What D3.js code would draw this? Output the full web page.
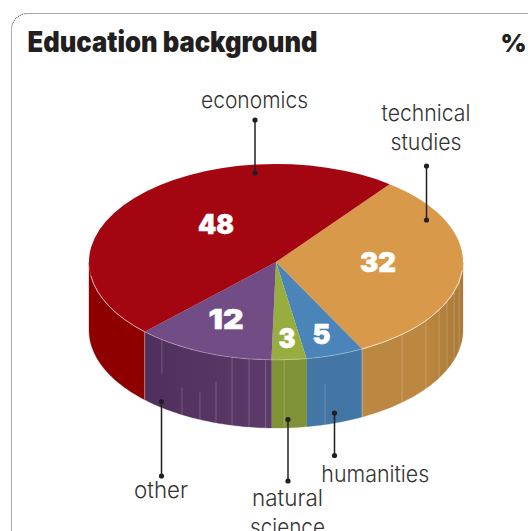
<!DOCTYPE html>
<html>
<head>
<meta charset="utf-8">
<script src="https://cdn.jsdelivr.net/npm/d3@7"></script>
<style>
  html, body { margin: 0; padding: 0; background: #fff; overflow: hidden; }
  svg { display: block; }
</style>
</head>
<body>
<div id="chart"></div>
<script>
// Education background, shares in percent, clockwise from the upper right
const categories = ["technical studies", "humanities", "natural science", "other", "economics"];
const shares = [32, 5, 3, 12, 48];
const topColors = ["#d8994b", "#4a84b8", "#98ad40", "#724c84", "#a30610"];
const wallColors = ["#bc8740", "#4376a4", "#7f9235", "#55325f", "#8e0000"];
const chartTitle = "Education background";
const unitLabel = "%";

// Slab geometry
const W = 528, H = 531;
const cx = 276, cy = 262, rx = 187, ry = 98, depth = 68;
const startDeg = 37.4;
const rad = d => d * Math.PI / 180;

// Moulding seams on the side of the slab, in degrees clockwise from the top
const seams = [
  { deg: 101.7, from: 0, to: 1 }, { deg: 107.8, from: 0, to: 1 }, { deg: 113.9, from: 0, to: 1 },
  { deg: 119.3, from: 0, to: 1 }, { deg: 126.7, from: 0, to: 1 }, { deg: 137.6, from: 0, to: 1 },
  { deg: 164.8, from: 0.4, to: 1 }, { deg: 177.5, from: 0, to: 1 },
  { deg: 183.2, from: 0, to: 1 }, { deg: 188.3, from: 0, to: 1 }, { deg: 193.6, from: 0, to: 1 },
  { deg: 198.7, from: 0.4, to: 1 }, { deg: 204, from: 0.6, to: 1 }, { deg: 210.2, from: 0.6, to: 1 },
  { deg: 217.6, from: 0, to: 0.5 }
];

const svg = d3.select("#chart").append("svg").attr("width", W).attr("height", H);

const rimX = a => cx + rx * Math.sin(a);
const rimY = a => cy - ry * Math.cos(a);

const defs = svg.append("defs");
const sideShade = defs.append("linearGradient").attr("id", "techWall");
sideShade.append("stop").attr("offset", "0").attr("stop-color", wallColors[0]);
sideShade.append("stop").attr("offset", "0.6").attr("stop-color", wallColors[0]);
sideShade.append("stop").attr("offset", "1").attr("stop-color", "#a97a39");
const otherShade = defs.append("linearGradient").attr("id", "otherWall");
otherShade.append("stop").attr("offset", "0").attr("stop-color", "#4f2f5c");
otherShade.append("stop").attr("offset", "1").attr("stop-color", "#5c3a69");

// Dotted panel outline runs off the right and bottom of the page
svg.append("rect")
  .attr("x", 11.5).attr("y", 13.5).attr("width", 700).attr("height", 700).attr("rx", 16)
  .attr("fill", "none").attr("stroke", "#555").attr("stroke-width", 1.1).attr("stroke-dasharray", "1 1");

svg.append("text").attr("x", 27.5).attr("y", 52)
  .attr("font-family", "Inter").attr("font-weight", 900).attr("font-size", 28)
  .attr("textLength", 290).attr("lengthAdjust", "spacingAndGlyphs")
  .attr("fill", "#231f20").text(chartTitle);
svg.append("text").attr("x", 500.5).attr("y", 52)
  .attr("font-family", "Inter").attr("font-weight", 900).attr("font-size", 25)
  .attr("fill", "#231f20").text(unitLabel);

// Pie layout, with angles measured clockwise from the top of the disc
const slices = d3.pie().sort(null)
  .startAngle(rad(startDeg)).endAngle(rad(startDeg) + 2 * Math.PI)(shares);

// Side wall: the visible part of each slice's rim, pushed down by the slab depth
const walls = svg.append("g");
const wallPath = (a0, a1) => {
  const n = 48;
  const angles = d3.range(n + 1).map(i => a0 + (a1 - a0) * i / n);
  const pts = angles.map(a => [rimX(a), rimY(a)])
    .concat(angles.slice().reverse().map(a => [rimX(a), rimY(a) + depth]));
  return d3.line()(pts) + "Z";
};
slices.forEach((s, i) => {
  const a0 = Math.max(s.startAngle, Math.PI / 2);
  const a1 = Math.min(s.endAngle, 3 * Math.PI / 2);
  if (a1 <= a0) return;
  const fill = i === 0 ? "url(#techWall)" : i === 3 ? "url(#otherWall)" : wallColors[i];
  walls.append("path").attr("d", wallPath(a0, a1)).attr("fill", fill).attr("stroke", fill).attr("stroke-width", 0.3);
});

// Seams and slice joints on the wall
walls.selectAll("line.seam").data(seams).join("line").attr("class", "seam")
  .attr("x1", d => rimX(rad(d.deg))).attr("x2", d => rimX(rad(d.deg)))
  .attr("y1", d => rimY(rad(d.deg)) + depth * d.from)
  .attr("y2", d => rimY(rad(d.deg)) + depth * d.to)
  .attr("stroke", "#fff").attr("stroke-opacity", 0.2).attr("stroke-width", 1);
[slices[0].endAngle, slices[3].endAngle].forEach(a => {
  walls.append("line")
    .attr("x1", rimX(a)).attr("x2", rimX(a))
    .attr("y1", rimY(a)).attr("y2", rimY(a) + depth)
    .attr("stroke", "#fff").attr("stroke-opacity", 0.4).attr("stroke-width", 1);
});

// Top face: a circular pie squashed into an ellipse
const topFace = svg.append("g").attr("transform", `translate(${cx},${cy}) scale(1,${ry / rx})`);
const arc = d3.arc().innerRadius(0).outerRadius(rx);
topFace.selectAll("path").data(slices).join("path")
  .attr("d", arc).attr("fill", (d, i) => topColors[i]);

// Pale highlight along the near rim of the disc
const rimLine = d3.arc().innerRadius(rx).outerRadius(rx);
[[rad(95), slices[0].endAngle, 0.4], [slices[3].endAngle, rad(262), 0.35],
 [slices[0].endAngle, slices[3].endAngle, 0.15]].forEach(([a0, a1, op]) => {
  topFace.append("path")
    .attr("d", rimLine({ startAngle: a0, endAngle: a1 }))
    .attr("fill", "none").attr("stroke", "#fff").attr("stroke-opacity", op)
    .attr("stroke-width", 1).attr("vector-effect", "non-scaling-stroke");
});

// Value labels on the top face
const valueSpots = [[378, 272], [321.5, 344], [287, 348], [226, 329], [216, 234]];
const valueWidths = [36, 18, 17, 35, 36];
svg.append("g").selectAll("text").data(slices).join("text")
  .attr("x", (d, i) => valueSpots[i][0]).attr("y", (d, i) => valueSpots[i][1])
  .attr("text-anchor", "middle")
  .attr("font-family", "Inter").attr("font-weight", 900).attr("font-size", 27)
  .attr("textLength", (d, i) => valueWidths[i]).attr("lengthAdjust", "spacingAndGlyphs")
  .attr("fill", "#fff").attr("stroke", "#fff").attr("stroke-width", 0.5)
  .text(d => d.value);

// Category captions
const captions = [
  { lines: ["technical", "studies"], x: 426, y: 121, widths: [89, 71] },
  { lines: ["humanities"], x: 375.3, y: 482, widths: [108] },
  { lines: ["natural", "science"], x: 287.5, y: 506, widths: [71, 75] },
  { lines: ["other"], x: 161, y: 498, widths: [54] },
  { lines: ["economics"], x: 254.5, y: 108, widths: [107] }
];
const captionGroup = svg.append("g")
  .attr("font-family", "Inter").attr("font-weight", 300).attr("font-size", 23)
  .attr("fill", "#333").attr("text-anchor", "middle");
captions.forEach(c => c.lines.forEach((t, j) => {
  captionGroup.append("text").attr("x", c.x).attr("y", c.y + j * 28.7)
    .attr("textLength", c.widths[j]).attr("lengthAdjust", "spacingAndGlyphs").text(t);
}));

// Leader lines with a dot on each end
const leaders = [
  [426.5, 166, 220], [334.5, 413, 455.5], [288, 419.5, 481], [161.5, 401.5, 476], [255, 120, 173]
];
const leaderGroup = svg.append("g");
leaderGroup.selectAll("line").data(leaders).join("line")
  .attr("x1", d => d[0]).attr("x2", d => d[0]).attr("y1", d => d[1]).attr("y2", d => d[2])
  .attr("stroke", "#231f20").attr("stroke-width", 1.5);
leaderGroup.selectAll("circle").data(leaders.flatMap(d => [[d[0], d[1]], [d[0], d[2]]])).join("circle")
  .attr("cx", d => d[0]).attr("cy", d => d[1]).attr("r", 2.6).attr("fill", "#231f20");
</script>
</body>
</html>
